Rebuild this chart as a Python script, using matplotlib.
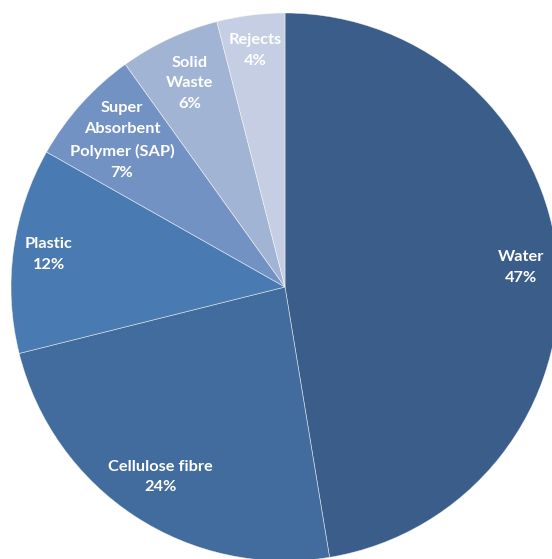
import numpy as np
import matplotlib
matplotlib.use("Agg")
import matplotlib.pyplot as plt

categories = ["Water", "Cellulose fibre", "Plastic", "Super\nAbsorbent\nPolymer (SAP)", "Solid\nWaste", "Rejects"]
values = [47.4, 23.7, 12.1, 6.9, 5.9, 4.0]
pct_labels = ["47%", "24%", "12%", "7%", "6%", "4%"]

colors = ["#3A5D89", "#426C9D", "#497AB2", "#7392C4", "#A2B4D4", "#C5CEE2"]
label_dist = [0.865, 0.83, 0.87, 0.80, 0.82, 0.87]

fig = plt.figure(figsize=(5.52, 5.59), dpi=100)
ax = fig.add_axes([11/552, -2/559, 548/552, 548/559])
wedges, _ = ax.pie(values, colors=colors, startangle=90, counterclock=False,
                   radius=1.0, wedgeprops=dict(edgecolor=(1, 1, 1, 0.6), linewidth=0.5))
for w in wedges:
    w.set_clip_on(False)
for w, cat, pct, d in zip(wedges, categories, pct_labels, label_dist):
    mid = np.deg2rad((w.theta1 + w.theta2) / 2)
    x, y = d * np.cos(mid), d * np.sin(mid)
    ax.text(x, y, f"{cat}\n{pct}", ha="center", va="center", color="white",
            fontsize=11.8, fontweight="bold", family=["Lato", "DejaVu Sans"], linespacing=1.62)
ax.set_xlim(-1, 1)
ax.set_ylim(-1, 1)
ax.set_aspect("equal")
ax.axis("off")
fig.savefig("out.png", dpi=100)
